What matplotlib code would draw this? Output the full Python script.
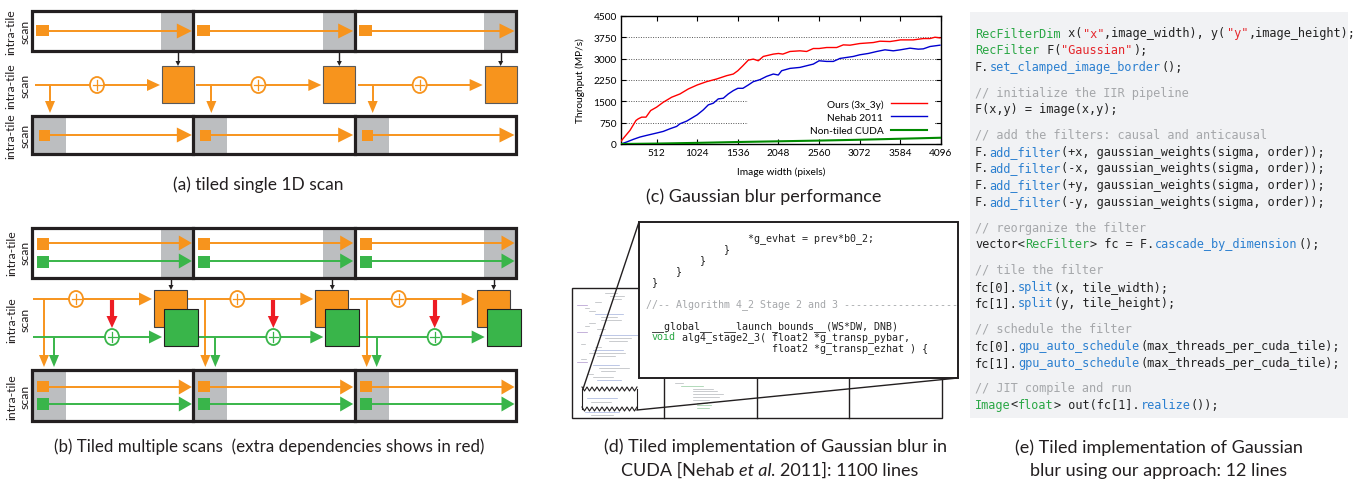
import matplotlib
matplotlib.use('Agg')
import matplotlib.pyplot as plt
from matplotlib.patches import Rectangle, Polygon, Ellipse
import numpy as np

plt.rcParams['font.family'] = ['Lato', 'DejaVu Sans']

# ---------------- data for chart (c) ----------------
ours_w = [64, 177, 253, 282, 324, 379, 438, 512, 597, 702, 807, 912, 1024, 1143, 1269, 1395,
          1479, 1536, 1600, 1668, 1731, 1794, 1857, 1983, 2048, 2103, 2193, 2319, 2403, 2487,
          2560, 2655, 2781, 2865, 2949, 3072, 3243, 3327, 3453, 3537, 3584, 3747, 3873, 3957,
          4020, 4083]
ours_v = [100, 478, 828, 886, 944, 944, 1177, 1294, 1469, 1644, 1760, 1935, 2075, 2192, 2285, 2402,
          2460, 2576, 2751, 2949, 2985, 2926, 3078, 3160, 3183, 3160, 3253, 3276, 3253, 3357,
          3357, 3392, 3392, 3485, 3474, 3532, 3567, 3614, 3602, 3637, 3660, 3660, 3707, 3707,
          3754, 3730]
nehab_w = [64, 135, 219, 303, 387, 512, 597, 681, 765, 807, 891, 975, 1024, 1101, 1164, 1227,
           1290, 1353, 1416, 1479, 1536, 1600, 1668, 1731, 1815, 1899, 1983, 2046, 2088, 2193,
           2319, 2403, 2487, 2560, 2655, 2739, 2823, 2907, 2991, 3072, 3180, 3287, 3390, 3495,
           3584, 3705, 3810, 3873, 3957, 4083]
nehab_v = [0, 70, 163, 245, 303, 385, 443, 536, 618, 711, 804, 944, 1026, 1200, 1376, 1434,
           1586, 1609, 1760, 1877, 1958, 1958, 2075, 2192, 2262, 2378, 2460, 2425, 2576, 2658,
           2693, 2751, 2809, 2926, 2903, 2903, 3008, 3043, 3078, 3136, 3183, 3253, 3311, 3276,
           3311, 3369, 3334, 3345, 3427, 3474]
cuda_w = [64, 512, 1024, 1536, 2048, 2560, 3072, 3584, 4096]
cuda_v = [0, 15, 40, 70, 95, 120, 150, 185, 220]
series_labels = ['Ours (3x_3y)', 'Nehab 2011', 'Non-tiled CUDA']
x_ticks = [512, 1024, 1536, 2048, 2560, 3072, 3584, 4096]
y_ticks = [0, 750, 1500, 2250, 3000, 3750, 4500]
x_label = 'Image width (pixels)'
y_label = 'Throughput (MP/s)'

captions_a = '(a) tiled single 1D scan'
captions_b = '(b) Tiled multiple scans  (extra dependencies shows in red)'
captions_c = '(c) Gaussian blur performance'
captions_d1 = '(d) Tiled implementation of Gaussian blur in'
captions_d2 = ['CUDA [Nehab ', 'et al.', ' 2011]: 1100 lines']
captions_e = ['(e) Tiled implementation of Gaussian', 'blur using our approach: 12 lines']
row_label = ('intra-tile', 'scan')

# code listings
T, S, F, C, D = '#2aa745', '#e5262b', '#2a7fd0', '#a5a7aa', '#222222'
code_e = [
    [("RecFilterDim", T), (" x(", D), ('"x"', S), (",image_width), y(", D), ('"y"', S), (",image_height);", D)],
    [("RecFilter", T), (" F(", D), ('"Gaussian"', S), (");", D)],
    [("F.", D), ("set_clamped_image_border", F), ("();", D)],
    None,
    [("// initialize the IIR pipeline", C)],
    [("F(x,y) = image(x,y);", D)],
    None,
    [("// add the filters: causal and anticausal", C)],
    [("F.", D), ("add_filter", F), ("(+x, gaussian_weights(sigma, order));", D)],
    [("F.", D), ("add_filter", F), ("(-x, gaussian_weights(sigma, order));", D)],
    [("F.", D), ("add_filter", F), ("(+y, gaussian_weights(sigma, order));", D)],
    [("F.", D), ("add_filter", F), ("(-y, gaussian_weights(sigma, order));", D)],
    None,
    [("// reorganize the filter", C)],
    [("vector<", D), ("RecFilter", T), ("> fc = F.", D), ("cascade_by_dimension", F), ("();", D)],
    None,
    [("// tile the filter", C)],
    [("fc[0].", D), ("split", F), ("(x, tile_width);", D)],
    [("fc[1].", D), ("split", F), ("(y, tile_height);", D)],
    None,
    [("// schedule the filter", C)],
    [("fc[0].", D), ("gpu_auto_schedule", F), ("(max_threads_per_cuda_tile);", D)],
    [("fc[1].", D), ("gpu_auto_schedule", F), ("(max_threads_per_cuda_tile);", D)],
    None,
    [("// JIT compile and run", C)],
    [("Image", T), ("<", D), ("float", T), ("> out(fc[1].", D), ("realize", F), ("());", D)],
]
code_d = [
    (0, [("                 *g_evhat = prev*b0_2;", D)]),
    (1, [("             }", D)]),
    (2, [("         }", D)]),
    (3, [("     }", D)]),
    (4, [(" }", D)]),
    (6, [("//-- Algorithm 4_2 Stage 2 and 3 " + "-" * 19, C)]),
    (8, [(" __global__  __launch_bounds__(WS*DW, DNB)", D)]),
    (9, [(" ", D), ("void", T), (" alg4_stage2_3( float2 *g_transp_pybar,", D)]),
    (10, [("                     float2 *g_transp_ezhat ) {", D)]),
]

ORANGE = '#f7941d'
GREEN = '#39b54a'
RED = '#ed1c24'
GRAY = '#bcbec0'
DARK = '#231f20'

W, H = 1357, 481
fig = plt.figure(figsize=(W / 100, H / 100), dpi=100)
ax = fig.add_axes([0, 0, 1, 1])
ax.set_xlim(0, W)
ax.set_ylim(H, 0)
ax.axis('off')


def arrow(x0, y0, x1, y1, color, lw=1.4, hl=13, hw=12, z=3):
    dx, dy = x1 - x0, y1 - y0
    L = np.hypot(dx, dy)
    ux, uy = dx / L, dy / L
    bx, by = x1 - ux * hl, y1 - uy * hl
    ax.plot([x0, bx + ux], [y0, by + uy], color=color, lw=lw, solid_capstyle='butt', zorder=z)
    px, py = -uy, ux
    ax.add_patch(Polygon([(x1, y1), (bx + px * hw / 2, by + py * hw / 2),
                          (bx - px * hw / 2, by - py * hw / 2)], closed=True,
                         fc=color, ec='none', zorder=z))


def cplus(x, y, color, z=4):
    ax.add_patch(Ellipse((x, y), 14, 16, fc='white', ec=color, lw=1.3, zorder=z))
    ax.plot([x - 4.5, x + 4.5], [y, y], color=color, lw=0.9, zorder=z + 0.1)
    ax.plot([x, x], [y - 5, y + 5], color=color, lw=0.9, zorder=z + 0.1)


def tile_box(x0, x1, y0, y1, n=3):
    tw = (x1 - x0) / n
    ax.add_patch(Rectangle((x0, y0), x1 - x0, y1 - y0, fc='none', ec=DARK, lw=2.3, zorder=5))
    for i in range(1, n):
        ax.plot([x0 + i * tw, x0 + i * tw], [y0, y1], color=DARK, lw=2.3, zorder=5)


def row_labels(yc, xa=11, xb=25):
    ax.text(xa, yc, row_label[0], rotation=90, ha='center', va='center', fontsize=8.8, color=DARK)
    ax.text(xb, yc, row_label[1], rotation=90, ha='center', va='center', fontsize=8.8, color=DARK)


TX0, TX1 = 32, 516
TW = (TX1 - TX0) / 3

# ---------------- (a) ----------------
for i in range(3):
    ts = TX0 + i * TW
    te = ts + TW
    # top row
    ax.add_patch(Rectangle((te - 32, 12), 32, 40, fc=GRAY, ec='none', zorder=1))
    ax.add_patch(Rectangle((ts + 4, 26), 13, 11, fc=ORANGE, ec='none', zorder=3))
    arrow(ts + 17, 32, te - 1.5, 32, ORANGE, hl=15, hw=15)
    # middle row
    arrow(ts + 3, 86, ts + 128, 86, ORANGE, hl=13, hw=12)
    cplus(ts + 65, 86, ORANGE)
    arrow(ts + 18, 86, ts + 18, 114, ORANGE, hl=12, hw=10)
    ax.add_patch(Rectangle((ts + 130, 67), 32, 37, fc=ORANGE, ec='#58595b', lw=0.8, zorder=3))
    arrow(ts + 146, 52, ts + 146, 67, DARK, lw=1.0, hl=5, hw=5)
    # bottom row
    ax.add_patch(Rectangle((ts, 117), 34, 38, fc=GRAY, ec='none', zorder=1))
    ax.add_patch(Rectangle((ts + 7, 131), 11, 11, fc=ORANGE, ec='none', zorder=3))
    arrow(ts + 18, 136, te - 1.5, 136, ORANGE, hl=15, hw=15)
tile_box(TX0, TX1, 12, 52)
tile_box(TX0, TX1, 117, 155)
row_labels(32)
row_labels(86)
row_labels(136)
ax.text(258, 190, captions_a, ha='center', va='baseline', fontsize=12.5, color=DARK)

# ---------------- (b) ----------------
for i in range(3):
    ts = TX0 + i * TW
    te = ts + TW
    ax.add_patch(Rectangle((te - 32, 229), 32, 50, fc=GRAY, ec='none', zorder=1))
    ax.add_patch(Rectangle((ts + 5, 239), 12, 12, fc=ORANGE, ec='none', zorder=3))
    arrow(ts + 17, 244, te - 1.5, 244, ORANGE, hl=13, hw=15)
    ax.add_patch(Rectangle((ts + 5, 257), 12, 12, fc=GREEN, ec='none', zorder=3))
    arrow(ts + 17, 262, te - 1.5, 262, GREEN, hl=13, hw=15)
    # middle
    o_start = ts + 1 if i == 0 else ts - 5
    g_start = ts + 1 if i == 0 else ts + 5
    arrow(o_start, 300, ts + 120, 300, ORANGE, hl=13, hw=13)
    arrow(g_start, 338, ts + 130, 338, GREEN, hl=13, hw=13)
    cplus(ts + 44, 300, ORANGE)
    cplus(ts + 80, 338, GREEN)
    arrow(ts + 80, 301, ts + 80, 329, RED, lw=3.0, hl=12, hw=11, z=4.5)
    arrow(ts + 12, 300, ts + 12, 368, ORANGE, hl=12, hw=10, z=2.5)
    arrow(ts + 22, 338, ts + 22, 368, GREEN, hl=12, hw=10, z=2.5)
    ax.add_patch(Rectangle((ts + 122, 291), 33, 37, fc=ORANGE, ec='#414042', lw=0.8, zorder=3.2))
    ax.add_patch(Rectangle((ts + 132, 310), 34, 37, fc=GREEN, ec='#231f20', lw=0.8, zorder=3.3))
    arrow(ts + 139, 279, ts + 139, 291, DARK, lw=1.0, hl=5, hw=5)
    # bottom
    ax.add_patch(Rectangle((ts, 371), 34, 51, fc=GRAY, ec='none', zorder=1))
    ax.add_patch(Rectangle((ts + 5, 382), 12, 11, fc=ORANGE, ec='none', zorder=3))
    arrow(ts + 17, 388, te - 1.5, 388, ORANGE, hl=13, hw=15)
    ax.add_patch(Rectangle((ts + 5, 399), 12, 12, fc=GREEN, ec='none', zorder=3))
    arrow(ts + 17, 405, te - 1.5, 405, GREEN, hl=13, hw=15)
tile_box(TX0, TX1, 229, 279)
tile_box(TX0, TX1, 371, 422)
row_labels(253, 12, 25)
row_labels(320, 12, 25)
row_labels(397, 12, 25)
ax.text(269, 452, captions_b, ha='center', va='baseline', fontsize=12.2, color=DARK)

# ---------------- (d) ----------------
ax.add_patch(Rectangle((572, 289), 370, 130, fc='white', ec=DARK, lw=1.0, zorder=1))
for xd in (664, 757, 849):
    ax.plot([xd, xd], [289, 419], color=DARK, lw=1.0, zorder=1.2)
thumb_rows = [(30, 12, 'g'), (35, 14, 'g'), (38, 8, 'g'), (20, 6, 'g'), (2, 10, 'p'), (10, 4, 'g'),
              (14, 6, 'g'), (20, 28, 'b'), (26, 16, 'g'), (26, 20, 'g'), (14, 6, 'g'), (10, 4, 'g'),
              (22, 8, 'g'), (2, 10, 'p'), (24, 40, 'b'), (30, 26, 'g'), (34, 18, 'g'), (6, 4, 'g'),
              (20, 6, 'g'), (18, 30, 'b'), (14, 36, 'g'), (22, 18, 'g'), (6, 5, 'g'), (2, 10, 'p'),
              (18, 26, 'b'), (24, 30, 'g'), (26, 14, 'g'), (12, 6, 'g'), (18, 20, 'g'), (22, 24, 'b')]
tcol = {'g': '#b4b7bb', 'b': '#a3b0dc', 'p': '#ae94cc', 'G': '#92cc9e'}
for k, (ind, ln, c) in enumerate(thumb_rows):
    yy = 294 + k * 3.0
    ax.plot([575 + ind, 575 + ind + ln], [yy, yy], color=tcol[c], lw=0.5, zorder=1.5)
for yy, ind, ln, c in [(399, 12, 30, 'b'), (403, 16, 20, 'g'), (413, 10, 34, 'b'), (416, 16, 22, 'g')]:
    ax.plot([575 + ind, 575 + ind + ln], [yy, yy], color=tcol[c], lw=0.5, zorder=1.5)
for k, (ind, ln, c) in enumerate([(0, 8, 'g'), (6, 22, 'G'), (18, 20, 'g'), (18, 24, 'g'), (18, 30, 'g'),
                                  (18, 26, 'g'), (18, 16, 'g'), (22, 10, 'G'), (22, 14, 'G'), (22, 12, 'G')]):
    yy = 384 + k * 2.8
    ax.plot([675 + ind, 675 + ind + ln], [yy, yy], color=tcol[c], lw=0.5, zorder=1.5)
# zigzags
for yz in (390, 410):
    xs = np.arange(582, 638, 2.5)
    ys = [yz - 2 if j % 2 == 0 else yz + 2 for j in range(len(xs))]
    ax.plot(xs, ys, color=DARK, lw=0.8, zorder=2)
ax.plot([582, 582], [390, 410], color=DARK, lw=0.8, zorder=2)
ax.plot([637, 637], [390, 410], color=DARK, lw=0.8, zorder=2)
# zoom box
ax.add_patch(Rectangle((639, 223), 319, 156, fc='white', ec=DARK, lw=1.4, zorder=5))
ax.plot([639, 583], [223, 390], color=DARK, lw=1.0, zorder=6)
ax.plot([958, 637], [379, 411], color=DARK, lw=1.0, zorder=6)

fs_d = 7.2
cw_d = fs_d * 100 / 72 * 0.602
for row, segs in code_d:
    col = 0
    yb = 241 + row * 11.0
    for s, c in segs:
        ax.text(645.5 + col * cw_d, yb, s, fontsize=fs_d, family='DejaVu Sans Mono',
                color=c, va='baseline', ha='left', zorder=7)
        col += len(s)

ax.text(776, 452, captions_d1, ha='center', va='baseline', fontsize=13, color=DARK)

# ---------------- (e) ----------------
ax.add_patch(Rectangle((970, 13), 378, 406, fc='#f1f2f4', ec='none', zorder=0.5))
fs_e = 8.6
cw_e = fs_e * 100 / 72 * 0.602
yb = 37.5
for line in code_e:
    if line is None:
        yb += 8.7
        continue
    col = 0
    for s, c in line:
        ax.text(975 + col * cw_e, yb, s, fontsize=fs_e, family='DejaVu Sans Mono',
                color=c, va='baseline', ha='left', zorder=2)
        col += len(s)
    yb += 16.8
ax.text(1159, 453, captions_e[0], ha='center', va='baseline', fontsize=13, color=DARK)
ax.text(1159, 476, captions_e[1], ha='center', va='baseline', fontsize=13, color=DARK)

# ---------------- (c) chart ----------------
cx = fig.add_axes([621 / W, 1 - 145 / H, 320 / W, 128 / H])
cx.set_axisbelow(True)
cx.plot(ours_w, ours_v, color='#ff0000', lw=1.0, zorder=3, label=series_labels[0])
cx.plot(nehab_w, nehab_v, color='#0000d0', lw=1.0, zorder=3, label=series_labels[1])
cx.plot(cuda_w, cuda_v, color='#008a00', lw=1.5, zorder=3, label=series_labels[2])
cx.set_xlim(64, 4096)
cx.set_ylim(0, 4500)
cx.set_xticks(x_ticks)
cx.set_yticks(y_ticks)
cx.tick_params(direction='in', length=3.5, width=0.8, top=True, right=True, labelsize=7.3, pad=3)
cx.yaxis.grid(True, linestyle=(0, (1, 1.5)), color='#555555', lw=0.7)
for sp in cx.spines.values():
    sp.set_linewidth(1.0)
cx.add_patch(Rectangle((0.397, 0.07), 0.585, 0.30, transform=cx.transAxes, fc='white',
                       ec='none', zorder=1))
cx.legend(loc='upper right', bbox_to_anchor=(0.956, 0.35), frameon=False, markerfirst=False,
          fontsize=7.3, handlelength=3.5, handletextpad=0.8, labelspacing=0.4, borderpad=0,
          borderaxespad=0)
cx.set_xlabel(x_label, fontsize=7.3, labelpad=7)
cx.set_ylabel(y_label, fontsize=7.3, labelpad=6)
ax.text(764, 202, captions_c, ha='center', va='baseline', fontsize=13, color=DARK)

# ---- (d) second caption line with italic part
renderer = fig.canvas.get_renderer()
parts = []
for k, s in enumerate(captions_d2):
    st = 'italic' if k == 1 else 'normal'
    parts.append(ax.text(0, 476, s.strip(), ha='left', va='baseline', fontsize=13, color=DARK,
                         style=st))
tmp1 = ax.text(0, 0, 'a a', fontsize=13)
tmp2 = ax.text(0, 0, 'aa', fontsize=13)
sp_w = tmp1.get_window_extent(renderer).width - tmp2.get_window_extent(renderer).width
tmp1.remove()
tmp2.remove()
widths = [p.get_window_extent(renderer).width for p in parts]
total = sum(widths) + 2 * sp_w
x = 770 - total / 2
for k, p in enumerate(parts):
    p.set_x(x)
    x += widths[k] + sp_w

fig.savefig('out.png', dpi=100)
